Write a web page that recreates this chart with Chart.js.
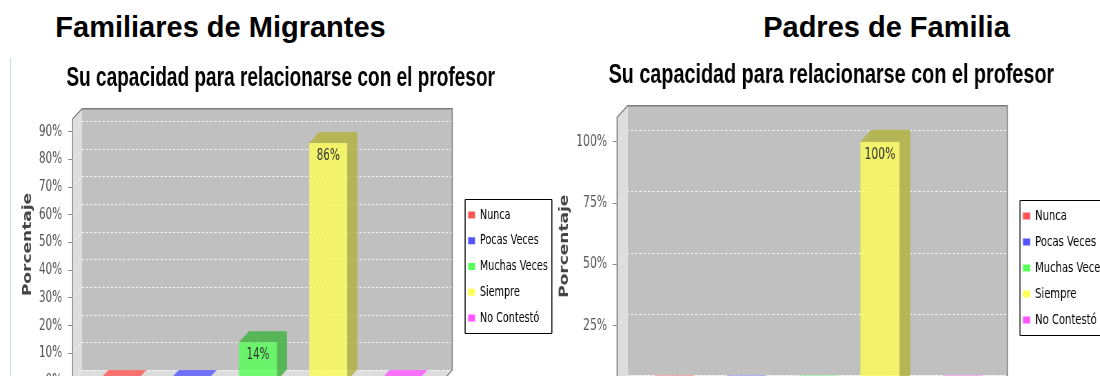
<!DOCTYPE html>
<html lang="es">
<head>
<meta charset="utf-8">
<title>Su capacidad para relacionarse con el profesor</title>
<script src="https://cdn.jsdelivr.net/npm/chart.js@4.4.1/dist/chart.umd.min.js"></script>
<style>
  html, body { margin: 0; padding: 0; background: #fff; }
  body { position: relative; width: 1100px; height: 376px; overflow: hidden; }
  .heading { position: absolute; top: 13px; font: bold 29px/29px "Liberation Sans", Arial, sans-serif; color: #000; text-align: center; white-space: nowrap; }
  #h-left { left: 0; width: 441px; }
  #h-right { left: 686px; width: 401px; }
  .frame { position: absolute; left: 10px; top: 58px; width: 1px; height: 318px; background: #c6dbf0; }
  canvas { position: absolute; top: 50px; transform-origin: 0 0; }
  #chart-left { left: 0; }
  #chart-right { left: 550px; }
</style>
</head>
<body>
<div class="heading" id="h-left">Familiares de Migrantes</div>
<div class="heading" id="h-right">Padres de Familia</div>
<div class="frame"></div>
<canvas id="chart-left"></canvas>
<canvas id="chart-right"></canvas>
<script>
// Answer categories, one coloured bar each
const categories = ['Nunca', 'Pocas Veces', 'Muchas Veces', 'Siempre', 'No Contestó'];
const seriesColors = ['#ff5555', '#5555ff', '#55ff55', '#ffff55', '#ff55ff'];

// Percentages per group
const familiaresValues = [0, 0, 14, 86, 0];
const padresValues = [0, 0, 0, 100, 0];

// Value-axis tick marks
const familiaresTicks = [0, 10, 20, 30, 40, 50, 60, 70, 80, 90];
const padresTicks = [0, 25, 50, 75, 100];

const chartTitle = 'Su capacidad para relacionarse con el profesor';
const axisTitle = 'Porcentaje';

const TEXT_FONT = '"DejaVu Sans", sans-serif';
const TITLE_FONT = '"Liberation Sans", Arial, sans-serif';
const BAR_ALPHA = 0.8;

function rgba(hex, alpha, factor) {
  const n = parseInt(hex.slice(1), 16);
  const f = factor || 1;
  const r = Math.floor(((n >> 16) & 255) * f);
  const g = Math.floor(((n >> 8) & 255) * f);
  const b = Math.floor((n & 255) * f);
  return `rgba(${r},${g},${b},${alpha})`;
}

// 3D box (back wall, left wall, floor) with grid and outline, then the
// top and side faces of every bar and the value labels.
const threeD = {
  id: 'threeD',
  beforeDatasetsDraw(chart, args, opts) {
    const { ctx, chartArea: a, scales: { y } } = chart;
    const { dx, dy } = opts;
    ctx.save();
    ctx.fillStyle = '#c0c0c0';
    ctx.fillRect(a.left + dx, a.top, a.right - a.left - dx, a.bottom - dy - a.top);
    ctx.fillStyle = '#dddddd';
    ctx.beginPath();
    ctx.moveTo(a.left, a.bottom);
    ctx.lineTo(a.left, a.top + dy);
    ctx.lineTo(a.left + dx, a.top);
    ctx.lineTo(a.left + dx, a.bottom - dy);
    ctx.closePath();
    ctx.fill();
    ctx.beginPath();
    ctx.moveTo(a.left, a.bottom);
    ctx.lineTo(a.left + dx, a.bottom - dy);
    ctx.lineTo(a.right, a.bottom - dy);
    ctx.lineTo(a.right - dx, a.bottom);
    ctx.closePath();
    ctx.fill();

    ctx.strokeStyle = 'rgba(255,255,255,0.9)';
    ctx.lineWidth = 1;
    ctx.setLineDash([3, 3]);
    y.ticks.forEach(t => {
      const py = Math.round(y.getPixelForValue(t.value)) + 0.5;
      ctx.beginPath();
      ctx.moveTo(a.left, py);
      ctx.lineTo(a.left + dx, py - dy);
      ctx.lineTo(a.right, py - dy);
      ctx.stroke();
    });
    ctx.setLineDash([]);

    ctx.strokeStyle = '#7c7c7c';
    ctx.lineWidth = 1.4;
    ctx.beginPath();
    ctx.moveTo(a.left + 0.7, a.bottom);
    ctx.lineTo(a.left + 0.7, a.top + dy);
    ctx.lineTo(a.left + dx, a.top + 0.7);
    ctx.lineTo(a.right - 0.7, a.top + 0.7);
    ctx.lineTo(a.right - 0.7, a.bottom - dy);
    ctx.lineTo(a.right - dx, a.bottom);
    ctx.stroke();
    ctx.restore();
  },
  afterDatasetsDraw(chart, args, opts) {
    const { ctx } = chart;
    const { dx, dy } = opts;
    const meta = chart.getDatasetMeta(0);
    const points = chart.data.datasets[0].data;
    ctx.save();
    meta.data.forEach((bar, i) => {
      const { x, y, base, width } = bar.getProps(['x', 'y', 'base', 'width'], true);
      const v = points[i].y;
      const l = x - width / 2;
      const r = x + width / 2;
      const color = seriesColors[i];
      ctx.fillStyle = v > 0 ? rgba(color, BAR_ALPHA, 0.7) : rgba(color, BAR_ALPHA);
      ctx.beginPath();
      ctx.moveTo(l, y);
      ctx.lineTo(l + dx, y - dy);
      ctx.lineTo(r + dx, y - dy);
      ctx.lineTo(r, y);
      ctx.closePath();
      ctx.fill();
      if (v > 0) {
        ctx.fillStyle = rgba(color, BAR_ALPHA, 0.7);
        ctx.beginPath();
        ctx.moveTo(r, y);
        ctx.lineTo(r + dx, y - dy);
        ctx.lineTo(r + dx, base - dy);
        ctx.lineTo(r, base);
        ctx.closePath();
        ctx.fill();
        ctx.fillStyle = '#333';
        ctx.font = `15px ${TEXT_FONT}`;
        ctx.textAlign = 'center';
        ctx.textBaseline = 'middle';
        ctx.fillText(v + '%', x, y + 13);
      }
    });
    ctx.restore();
  }
};

// Thin black frame round the legend entries
const legendFrame = {
  id: 'legendFrame',
  afterDraw(chart, args, opts) {
    const boxes = chart.legend && chart.legend.legendHitBoxes;
    if (!boxes || !boxes.length) return;
    const { ctx } = chart;
    const s = opts.squeeze;
    const left = Math.min(...boxes.map(b => b.left)) - 3 / s;
    const right = Math.max(...boxes.map(b => b.left + b.width)) + 4 / s;
    const top = Math.round(boxes[0].top - 9.5) + 0.5;
    const last = boxes[boxes.length - 1];
    const bottom = Math.round(last.top + last.height + 8) + 0.5;
    ctx.save();
    ctx.strokeStyle = '#000';
    ctx.lineWidth = 1;
    ctx.beginPath();
    ctx.moveTo(left, top);
    ctx.lineTo(right, top);
    ctx.moveTo(left, bottom);
    ctx.lineTo(right, bottom);
    ctx.stroke();
    ctx.lineWidth = 1 / s;
    ctx.beginPath();
    ctx.moveTo(left, top);
    ctx.lineTo(left, bottom);
    ctx.moveTo(right, top);
    ctx.lineTo(right, bottom);
    ctx.stroke();
    ctx.restore();
  }
};

function drawChart(canvasId, values, tickValues, lay) {
  const legendFont = 14;
  const boxW = 10;
  const boxH = 7;
  const probe = document.createElement('canvas').getContext('2d');
  probe.font = `normal ${legendFont}px ${TEXT_FONT}`;
  const textW = Math.max(...categories.map(c => probe.measureText(c).width));
  const legendW = lay.legendPad + boxW + legendFont / 2 + textW + 10;

  const canvas = document.getElementById(canvasId);
  canvas.width = Math.round(lay.plotRight + lay.gap + legendW);
  canvas.height = lay.height;
  canvas.style.transform = `scaleX(${lay.squeeze})`;

  return new Chart(canvas, {
    type: 'bar',
    data: {
      datasets: [{
        xAxisID: 'x',
        yAxisID: 'y',
        data: values.map((v, i) => ({ x: i, y: v })),
        backgroundColor: seriesColors.map(c => rgba(c, BAR_ALPHA)),
        borderWidth: 0,
        barPercentage: 0.54,
        categoryPercentage: 1
      }]
    },
    options: {
      responsive: false,
      animation: false,
      devicePixelRatio: 1,
      layout: { padding: { left: lay.padLeft, right: 0, top: 0, bottom: 0 } },
      scales: {
        x: {
          type: 'linear',
          offset: false,
          min: -0.645,
          max: 4.77,
          display: true,
          afterBuildTicks: s => { s.ticks = categories.map((c, i) => ({ value: i })); },
          ticks: { display: false },
          grid: { display: false },
          border: { display: false },
          afterFit: s => { s.height = lay.xAxisHeight; }
        },
        y: {
          min: 0,
          max: lay.yMax,
          afterBuildTicks: s => { s.ticks = tickValues.map(v => ({ value: v })); },
          afterFit: s => { s.width = lay.axisWidth; },
          ticks: {
            callback: v => v + '%',
            font: { family: TEXT_FONT, size: 15 },
            color: '#555',
            padding: lay.tickPad
          },
          grid: { display: true, drawOnChartArea: false, drawTicks: true, tickLength: lay.tickLength, color: '#888' },
          border: { display: false },
          title: {
            display: true,
            text: axisTitle,
            font: { family: TEXT_FONT, size: 17, weight: 'bold' },
            color: '#444',
            padding: { top: lay.yTitlePad, bottom: 0 }
          }
        },
        // empty spacer between the plot and the legend
        gap: {
          type: 'linear',
          axis: 'y',
          position: 'right',
          display: true,
          ticks: { display: false },
          grid: { display: false },
          border: { display: false },
          afterFit: s => { s.width = lay.gap; }
        }
      },
      plugins: {
        title: {
          display: true,
          text: chartTitle,
          color: '#000',
          font: { family: TITLE_FONT, size: lay.titleSize, weight: 'bold' },
          padding: lay.titlePad
        },
        legend: {
          position: 'right',
          maxWidth: legendW,
          onClick: null,
          labels: {
            boxWidth: boxW,
            boxHeight: boxH,
            padding: lay.legendPad,
            color: '#111',
            font: { family: TEXT_FONT, size: legendFont },
            generateLabels: () => categories.map((c, i) => ({
              text: c,
              fillStyle: seriesColors[i],
              strokeStyle: seriesColors[i],
              lineWidth: 0,
              hidden: false,
              index: i
            }))
          }
        },
        tooltip: { enabled: false },
        threeD: { dx: lay.dx, dy: lay.dy },
        legendFrame: { squeeze: lay.squeeze }
      }
    },
    plugins: [threeD, legendFrame]
  });
}

drawChart('chart-left', familiaresValues, familiaresTicks, {
  squeeze: 0.69, padLeft: 9.4, axisWidth: 95, plotRight: 655.9, gap: 10.7,
  height: 433, xAxisHeight: 102, yMax: 98.6, dx: 14.5, dy: 11,
  titleSize: 27.6, titlePad: { top: 11.4, bottom: 13.5 }, yTitlePad: 20.8,
  tickLength: 5.8, tickPad: 8.7, legendPad: 11.7
});

drawChart('chart-right', padresValues, padresTicks, {
  squeeze: 0.715, padLeft: 0, axisWidth: 93.3, plotRight: 640.3, gap: 9.2,
  height: 436, xAxisHeight: 98.6, yMax: 114.9, dx: 15.4, dy: 12,
  titleSize: 27.7, titlePad: { top: 8.4, bottom: 13.4 }, yTitlePad: 10.6,
  tickLength: 5.6, tickPad: 8, legendPad: 12
});
</script>
</body>
</html>
